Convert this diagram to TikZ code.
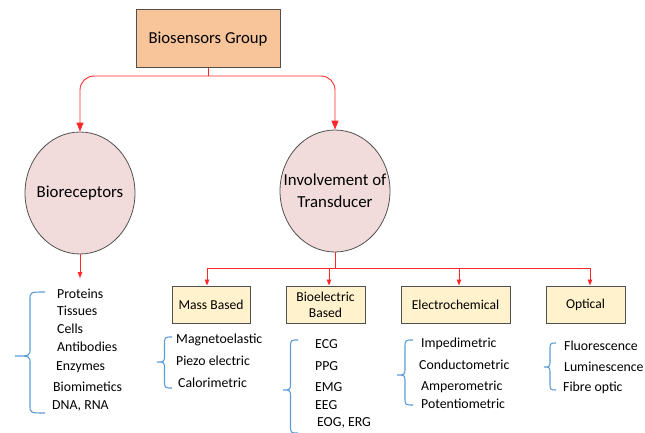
\documentclass[tikz,border=0pt]{standalone}
\usepackage{fontspec}
\setmainfont{Carlito}
\usetikzlibrary{arrows.meta,shapes.geometric}

\definecolor{peach}{RGB}{248,197,154}
\definecolor{rose}{RGB}{242,220,219}
\definecolor{cream}{RGB}{255,242,204}
\definecolor{edge}{RGB}{80,80,80}
\definecolor{braceblue}{RGB}{91,155,213}
\definecolor{link}{RGB}{255,40,40}

\tikzset{
  x=1pt, y=-1pt,
  topbox/.style={draw=edge, line width=1pt, fill=peach, minimum width=144pt,
    minimum height=58pt, font=\fontsize{16.7}{20}\selectfont},
  bubble/.style={draw=edge, line width=0.8pt, fill=rose, ellipse,
    minimum width=110pt, minimum height=122pt, inner sep=0pt},
  bubbletext/.style={font=\fontsize{16.8}{22}\selectfont, align=center},
  kindbox/.style={draw=edge, line width=1pt, fill=cream, minimum height=37pt,
    font=\fontsize{13.6}{19}\selectfont, align=center},
  item/.style={anchor=west, inner sep=0pt, font=\fontsize{13.8}{16}\selectfont},
  bigarrow/.style={draw=link, line width=0.9pt, -{Triangle[length=9pt,width=7pt]}},
  smallarrow/.style={draw=link, line width=0.9pt, -{Triangle[length=6pt,width=4.5pt]}},
  wire/.style={draw=link, line width=0.9pt},
  bracestroke/.style={draw=braceblue, line width=1.1pt},
}

% left curly brace: left tip x, right end x, top y, tip y, bottom y
\newcommand\curlybrace[5]{%
  \draw[bracestroke] (#2,#3) .. controls ({(#1+#2)/2},#3) .. ({(#1+#2)/2},{#3+8})
    -- ({(#1+#2)/2},{#4-8}) .. controls ({(#1+#2)/2},#4) .. (#1,#4)
    .. controls ({(#1+#2)/2},#4) .. ({(#1+#2)/2},{#4+8})
    -- ({(#1+#2)/2},{#5-8}) .. controls ({(#1+#2)/2},#5) .. (#2,#5);}

\begin{document}
\begin{tikzpicture}
\useasboundingbox (0,0) rectangle (645,433);

% main box and the two branches
\node[topbox] (group) at (208,39) {Biosensors Group};
\node[bubble] (bio) at (80,193) {};
\node[bubbletext] at (bio) {Bioreceptors};
\node[bubble] (trans) at (335,191) {};
\node[bubbletext] at (trans) {Involvement of\\Transducer};

\coordinate (split) at (208,76);
\draw[wire] (group.south) -- (split);
\draw[bigarrow, rounded corners=14pt] (split) -| (bio.north);
\draw[bigarrow, rounded corners=14pt] (split) -| (trans.north);

% transducer kinds
\node[kindbox, minimum width=78pt] (mass) at (211,304.5) {Mass Based};
\node[kindbox, minimum width=79pt] (elec) at (325.5,304.5) {Bioelectric\\[-3pt]Based};
\node[kindbox, minimum width=109pt] (chem) at (455.5,304.5) {Electrochemical};
\node[kindbox, minimum width=79pt] (opt) at (585.5,304.5) {Optical};

\coordinate (bus) at (335,268);
\draw[wire] (trans.south) -- (bus);
\draw[smallarrow] (bus) -| ([xshift=-4pt]mass.north);
\draw[smallarrow] (bus) -| ([xshift=3.5pt]elec.north);
\draw[smallarrow] (bus) -| ([xshift=3.5pt]chem.north);
\draw[smallarrow] (bus) -| ([xshift=4.5pt]opt.north);

% bioreceptor examples
\coordinate (bioend) at (80,278);
\draw[smallarrow] (bio.south) -- (bioend);
\curlybrace{15}{45}{292}{356}{413}
\node[item] at (57,294) {Proteins};
\node[item] at (57,311) {Tissues};
\node[item] at (57,329) {Cells};
\node[item] at (57,347) {Antibodies};
\node[item] at (56,367) {Enzymes};
\node[item] at (53,387) {Biomimetics};
\node[item] at (52,406) {DNA, RNA};

% mass based
\curlybrace{157}{172}{337}{362}{388}
\node[item] at (176,340) {Magnetoelastic};
\node[item] at (176,361) {Piezo electric};
\node[item] at (178,383) {Calorimetric};

% bioelectric based
\curlybrace{283}{298}{340}{390}{433}
\node[item] at (315,344) {ECG};
\node[item] at (315,366) {PPG};
\node[item] at (315,387) {EMG};
\node[item] at (315,405) {EEG};
\node[item] at (317,423) {EOG, ERG};

% electrochemical
\curlybrace{397}{413}{340}{375}{405}
\node[item] at (421,344) {Impedimetric};
\node[item] at (419,365) {Conductometric};
\node[item] at (421,387) {Amperometric};
\node[item] at (421,404) {Potentiometric};

% optical
\curlybrace{544}{556}{343}{367}{390}
\node[item] at (564,346) {Fluorescence};
\node[item] at (564,367) {Luminescence};
\node[item] at (563,388) {Fibre optic};
\end{tikzpicture}
\end{document}
